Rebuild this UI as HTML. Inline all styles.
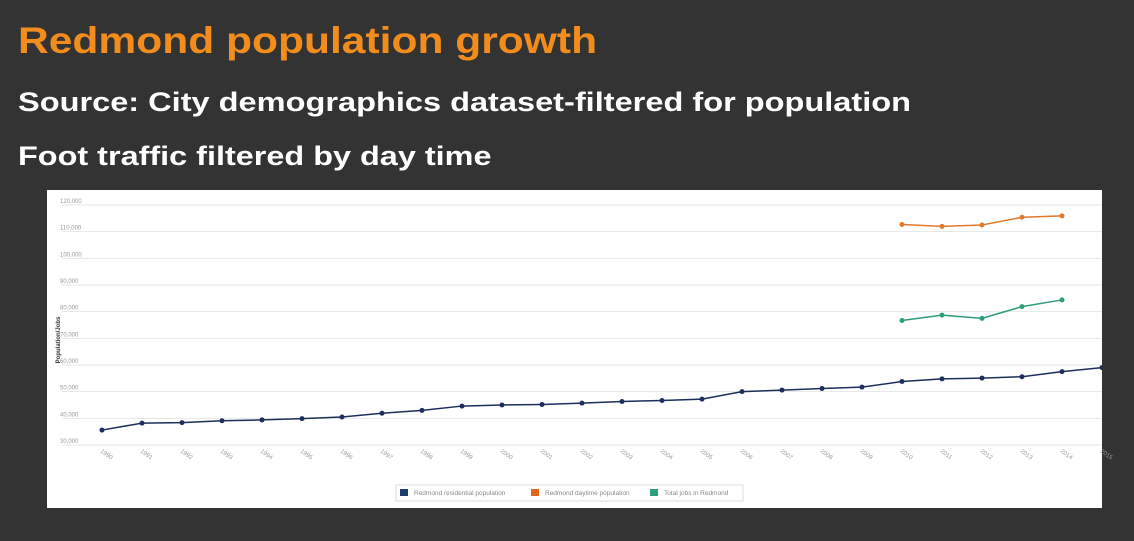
<!DOCTYPE html>
<html><head><meta charset="utf-8"><style>
body{margin:0;width:1134px;height:541px;background:#333333;overflow:hidden;font-family:"Liberation Sans",sans-serif;position:relative}
.t{position:absolute;left:18px;font-weight:bold;white-space:nowrap;transform-origin:0 0}
#panel{position:absolute;left:47px;top:190px;width:1055px;height:318px;background:#fff}
</style></head><body>
<div class="t" style="top:20px;font-size:37px;color:#f28c1c;transform:scaleX(1.15)">Redmond population growth</div>
<div class="t" style="top:87px;font-size:27px;color:#fff;transform:scaleX(1.205)">Source: City demographics dataset-filtered for population</div>
<div class="t" style="top:141px;font-size:27px;color:#fff;transform:scaleX(1.2)">Foot traffic filtered by day time</div>
<div id="panel"></div>
<svg id="chart" width="1134" height="541" style="position:absolute;left:0;top:0"></svg>
<script>
const years=[1990,1991,1992,1993,1994,1995,1996,1997,1998,1999,2000,2001,2002,2003,2004,2005,2006,2007,2008,2009,2010,2011,2012,2013,2014,2015];
const residential=[35600,38200,38400,39100,39400,39900,40500,41900,43000,44600,45000,45200,45700,46300,46700,47200,50000,50600,51200,51700,53800,54800,55100,55600,57500,59000];
const daytimeYears=[2010,2011,2012,2013,2014];
const daytime=[112700,112000,112500,115400,115900];
const jobsYears=[2010,2011,2012,2013,2014];
const jobs=[76700,78700,77500,81900,84400];
const yTicks=[30000,40000,50000,60000,70000,80000,90000,100000,110000,120000];
const NS="http://www.w3.org/2000/svg";
const svg=document.getElementById('chart');
const x=yr=>102+(yr-1990)*40;
const y=v=>445-(v-30000)*240/90000;
function mk(t,a,p){const e=document.createElementNS(NS,t);for(const k in a)e.setAttribute(k,a[k]);(p||svg).appendChild(e);return e;}
const clip=mk('clipPath',{id:'c'});mk('rect',{x:47,y:190,width:1055,height:318},clip);
yTicks.forEach(v=>{
 const l=mk('line',{x1:62,x2:1102,y1:y(v),y2:y(v),stroke:'#e6e6e6','stroke-width':1});
 
 
 const t=mk('text',{x:60,y:y(v)-2,'font-size':6,fill:'#999','text-anchor':'start'});
 t.textContent=v.toLocaleString('en-US');
 
 
});
years.forEach(yr=>{
 const t=mk('text',{x:x(yr)-2,y:452,'font-size':6,fill:'#999',transform:`rotate(35 ${x(yr)-2} 452)`});
 t.textContent=yr;
 
 
});
const yt=mk('text',{x:60,y:340,'font-size':6,'font-weight':'bold',fill:'#333','text-anchor':'middle',transform:'rotate(-90 60 340)'});
yt.textContent='Population/Jobs';


function series(xs,vs,col,name){
 const g=mk('g',{'clip-path':'url(#c)'});
 
 
 mk('polyline',{points:xs.map((a,i)=>x(a)+','+y(vs[i])).join(' '),fill:'none',stroke:col,'stroke-width':1.5},g);
 xs.forEach((a,i)=>{const c=mk('circle',{cx:x(a),cy:y(vs[i]),r:2.5,fill:col},g);
  
  });
}
series(years,residential,'#1d2f5a','residential-series');
series(daytimeYears,daytime,'#e07a2e','daytime-series');
series(jobsYears,jobs,'#2e9e78','jobs-series');
const lg=mk('g',{});


mk('rect',{x:396,y:485,width:347,height:16,fill:'#fff',stroke:'#ddd'},lg);
[['#1d3b70','Redmond residential population',400],['#e0661e','Redmond daytime population',531],['#2e9e78','Total jobs in Redmond',650]].forEach(d=>{
 const e=mk('g',{},lg);
 
 
 mk('rect',{x:d[2],y:489,width:8,height:7,fill:d[0]},e);
 const t=mk('text',{x:d[2]+14,y:495,'font-size':6.5,fill:'#888'},e);t.textContent=d[1];
});
</script>
</body></html>
